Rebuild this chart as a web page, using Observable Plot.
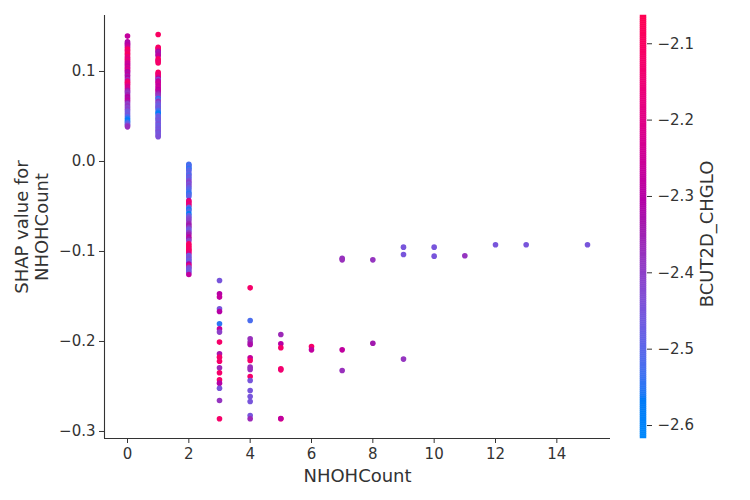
<!DOCTYPE html>
<html>
<head>
<meta charset="utf-8">
<script src="https://cdn.jsdelivr.net/npm/d3@7"></script>
<script src="https://cdn.jsdelivr.net/npm/@observablehq/plot@0.6"></script>
<style>
  body { margin: 0; background: #fff; }
  #wrap { position: relative; width: 750px; height: 500px; }
  #wrap svg { position: absolute; top: 0; }
</style>
</head>
<body>
<div id="wrap"></div>
<script>
// ---- data ----
// NHOHCount = 0
const shap0 = [0.1393,0.1330,0.1315,0.1300,0.1285,0.1270,0.1250,0.1235,0.1220,0.1200,0.1185,0.1165,0.1150,0.1135,0.1120,0.1105,0.1090,0.1075,0.1060,0.1045,0.1030,0.1015,0.1000,0.0985,0.0965,0.0950,0.0930,0.0910,0.0895,0.0880,0.0865,0.0850,0.0830,0.0810,0.0790,0.0775,0.0760,0.0740,0.0720,0.0700,0.0680,0.0660,0.0640,0.0620,0.0600,0.0580,0.0560,0.0540,0.0520,0.0500,0.0480,0.0460,0.0445,0.0430,0.0415,0.0400,0.0385];
const col0  = [-2.27,-2.30,-2.32,-2.30,-2.28,-2.25,-2.12,-2.10,-2.15,-2.12,-2.10,-2.18,-2.15,-2.20,-2.13,-2.22,-2.25,-2.24,-2.28,-2.22,-2.26,-2.20,-2.30,-2.32,-2.28,-2.34,-2.30,-2.37,-2.20,-2.14,-2.12,-2.18,-2.24,-2.22,-2.33,-2.36,-2.38,-2.35,-2.30,-2.32,-2.28,-2.34,-2.40,-2.38,-2.42,-2.40,-2.45,-2.47,-2.45,-2.50,-2.55,-2.58,-2.56,-2.52,-2.48,-2.40,-2.37];
// NHOHCount = 1
const shap1 = [0.1411,0.1270,0.1255,0.1240,0.1225,0.1210,0.1190,0.1175,0.1140,0.1125,0.1110,0.1095,0.0990,0.0975,0.0960,0.0945,0.0925,0.0910,0.0895,0.0880,0.0860,0.0840,0.0820,0.0800,0.0785,0.0765,0.0750,0.0735,0.0715,0.0700,0.0685,0.0665,0.0650,0.0630,0.0615,0.0600,0.0585,0.0565,0.0545,0.0530,0.0510,0.0490,0.0475,0.0460,0.0440,0.0420,0.0400,0.0380,0.0360,0.0345,0.0330,0.0310,0.0290,0.0275];
const col1  = [-2.10,-2.12,-2.10,-2.14,-2.30,-2.34,-2.32,-2.28,-2.12,-2.10,-2.15,-2.12,-2.10,-2.15,-2.12,-2.18,-2.30,-2.42,-2.28,-2.26,-2.24,-2.28,-2.25,-2.30,-2.27,-2.32,-2.36,-2.38,-2.40,-2.55,-2.50,-2.37,-2.44,-2.46,-2.48,-2.45,-2.47,-2.52,-2.56,-2.58,-2.50,-2.46,-2.48,-2.45,-2.47,-2.44,-2.48,-2.46,-2.45,-2.47,-2.44,-2.46,-2.45,-2.44];
// NHOHCount = 2
const shap2 = [-0.0030,-0.0045,-0.0060,-0.0075,-0.0090,-0.0105,-0.0135,-0.0150,-0.0170,-0.0190,-0.0210,-0.0230,-0.0250,-0.0270,-0.0290,-0.0310,-0.0340,-0.0355,-0.0370,-0.0390,-0.0435,-0.0450,-0.0470,-0.0490,-0.0510,-0.0530,-0.0550,-0.0580,-0.0600,-0.0620,-0.0640,-0.0660,-0.0690,-0.0710,-0.0730,-0.0750,-0.0770,-0.0790,-0.0810,-0.0840,-0.0860,-0.0880,-0.0915,-0.0935,-0.0955,-0.0975,-0.0990,-0.1005,-0.1025,-0.1045,-0.1065,-0.1085,-0.1100,-0.1120,-0.1140,-0.1155,-0.1175,-0.1190,-0.1210,-0.1230,-0.1256];
const col2  = [-2.52,-2.54,-2.50,-2.55,-2.52,-2.50,-2.48,-2.52,-2.46,-2.50,-2.44,-2.40,-2.45,-2.42,-2.47,-2.50,-2.53,-2.55,-2.52,-2.50,-2.25,-2.12,-2.20,-2.15,-2.48,-2.56,-2.52,-2.58,-2.50,-2.45,-2.42,-2.40,-2.36,-2.34,-2.38,-2.45,-2.47,-2.40,-2.35,-2.28,-2.34,-2.40,-2.12,-2.10,-2.10,-2.12,-2.10,-2.14,-2.22,-2.47,-2.45,-2.44,-2.48,-2.46,-2.30,-2.18,-2.40,-2.44,-2.47,-2.45,-2.28];
// NHOHCount >= 3 (sparse)
const sparseX    = [3,3,3,3,3,3,3,3,3,3,3,3,3,3,3,3,3,3,3,
                    4,4,4,4,4,4,4,4,4,4,4,4,4,4,4,4,
                    5,5,5,5,5,5,5,
                    6,6,
                    7,7,7,7,
                    8,8,
                    9,9,9,
                    10,10,
                    11,12,13,15];
const sparseShap = [-0.1322,-0.1470,-0.1507,-0.1637,-0.1667,-0.1804,-0.1860,-0.1896,-0.2007,-0.2137,-0.2174,-0.2219,-0.2293,-0.2348,-0.2426,-0.2463,-0.2519,-0.2656,-0.2859,
                    -0.1404,-0.1767,-0.1970,-0.2007,-0.2033,-0.2181,-0.2211,-0.2285,-0.2311,-0.2389,-0.2433,-0.2544,-0.2611,-0.2667,-0.2822,-0.2859,
                    -0.1922,-0.2026,-0.2070,-0.2304,-0.2315,-0.2859,-0.2855,
                    -0.2056,-0.2093,
                    -0.1075,-0.1093,-0.2093,-0.2322,
                    -0.1093,-0.2019,
                    -0.0952,-0.1033,-0.2196,
                    -0.0952,-0.1052,
                    -0.1048,-0.0926,-0.0926,-0.0926];
const sparseCol  = [-2.45,-2.30,-2.27,-2.45,-2.30,-2.55,-2.28,-2.40,-2.12,-2.33,-2.12,-2.12,-2.36,-2.12,-2.12,-2.30,-2.45,-2.38,-2.12,
                    -2.12,-2.52,-2.37,-2.36,-2.32,-2.27,-2.12,-2.37,-2.37,-2.12,-2.45,-2.45,-2.45,-2.45,-2.45,-2.36,
                    -2.36,-2.30,-2.12,-2.12,-2.14,-2.12,-2.28,
                    -2.12,-2.28,
                    -2.38,-2.37,-2.28,-2.37,
                    -2.38,-2.34,
                    -2.45,-2.45,-2.38,
                    -2.45,-2.45,
                    -2.38,-2.45,-2.45,-2.45];

const xTicks = [0, 2, 4, 6, 8, 10, 12, 14];
const yTicks = [-0.3, -0.2, -0.1, 0.0, 0.1];
const cTicks = [-2.6, -2.5, -2.4, -2.3, -2.2, -2.1];
const xDomain = [-0.75, 15.75];
const yDomain = [-0.3078, 0.1622];
const cDomain = [-2.617, -2.063];

// ---- build table ----
const points = [];
shap0.forEach((v, i) => points.push({x: 0, y: v, c: col0[i]}));
shap1.forEach((v, i) => points.push({x: 1, y: v, c: col1[i]}));
shap2.forEach((v, i) => points.push({x: 2, y: v, c: col2[i]}));
sparseShap.forEach((v, i) => points.push({x: sparseX[i], y: v, c: sparseCol[i]}));

// shap red_blue colormap (LCh interpolation blue -> red, lightness dip in the middle)
function shapRedBlue(t) {
  const h = 266.93 + t * (380.32 - 266.93);
  const c = 70 + 20 * t;
  const l = t < 0.5 ? 54 - 28 * t : 40 + 28 * (t - 0.5);
  return d3.hcl(h % 360, c, l).formatHex();
}
const colorScale = {type: "linear", domain: cDomain, interpolate: shapRedBlue, clamp: true};
const font = "DejaVu Sans";
const ink = "#333333";

const main = Plot.plot({
  width: 750, height: 500,
  marginLeft: 104, marginRight: 140, marginTop: 15, marginBottom: 62,
  style: {fontFamily: font, fontSize: "15px", color: ink, background: "transparent"},
  x: {domain: xDomain},
  y: {domain: yDomain},
  color: colorScale,
  marks: [
    Plot.dot(points, {x: "x", y: "y", fill: "c", r: 2.8, stroke: null}),
    Plot.ruleX([xDomain[0]], {stroke: ink, strokeWidth: 1.1}),
    Plot.ruleY([yDomain[0]], {stroke: ink, strokeWidth: 1.1}),
    Plot.axisX({ticks: xTicks, tickSize: 5, tickPadding: 5, label: null, stroke: ink, fill: ink, fontSize: 15}),
    Plot.axisY({ticks: yTicks, tickFormat: ".1f", tickSize: 5, tickPadding: 4, label: null, stroke: ink, fill: ink, fontSize: 15}),
    Plot.text(["NHOHCount"], {frameAnchor: "bottom", dy: 38, text: d => d, fontSize: 18, fill: ink, textAnchor: "middle", lineAnchor: "middle"}),
    Plot.text(["SHAP value for\nNHOHCount"], {frameAnchor: "left", dx: -73, text: d => d, fontSize: 18, fill: ink, rotate: -90, textAnchor: "middle", lineAnchor: "middle", lineHeight: 1.1})
  ]
});

// colorbar
const nStripes = 200;
const step = (cDomain[1] - cDomain[0]) / nStripes;
const stripes = d3.range(nStripes).map(i => ({y1: cDomain[0] + i * step, y2: cDomain[0] + (i + 1) * step, v: cDomain[0] + (i + 0.5) * step}));

const bar = Plot.plot({
  width: 150, height: 500,
  marginLeft: 40, marginRight: 104, marginTop: 15, marginBottom: 62,
  style: {fontFamily: font, fontSize: "15px", color: ink, background: "transparent"},
  x: {domain: [0, 1], axis: null},
  y: {domain: cDomain},
  color: colorScale,
  marks: [
    Plot.rect(stripes, {x1: 0, x2: 1, y1: "y1", y2: "y2", fill: "v", inset: 0, stroke: "v", strokeWidth: 0.5}),
    Plot.axisY({anchor: "right", ticks: cTicks, tickFormat: ".1f", tickSize: 5, tickPadding: 6, label: null, stroke: ink, fill: ink, fontSize: 15}),
    Plot.text(["BCUT2D_CHGLO"], {frameAnchor: "right", dx: 61, dy: 7, text: d => d, fontSize: 18, fill: ink, rotate: -90, textAnchor: "middle", lineAnchor: "middle"})
  ]
});

const wrap = document.getElementById("wrap");
main.style.left = "0px";
bar.style.left = "600px";
wrap.appendChild(main);
wrap.appendChild(bar);
</script>
</body>
</html>
